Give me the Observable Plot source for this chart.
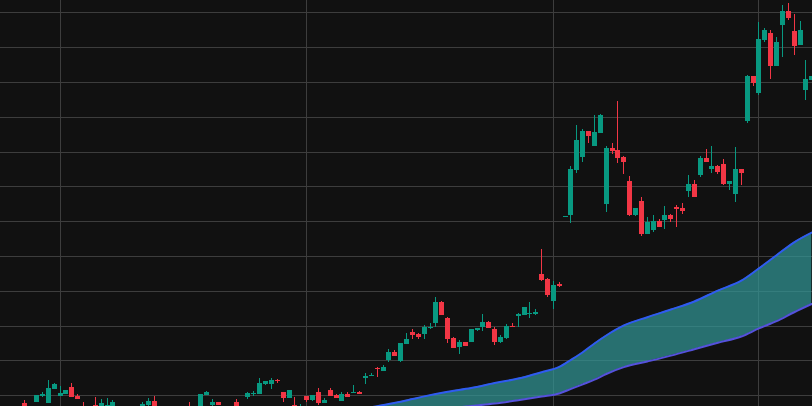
<!DOCTYPE html>
<html><head><meta charset="utf-8">
<script src="https://cdn.jsdelivr.net/npm/d3@7"></script>
<script src="https://cdn.jsdelivr.net/npm/@observablehq/plot@0.6"></script>
<style>html,body{margin:0;padding:0;background:#111111;overflow:hidden}</style>
</head><body><div id="chart"></div>
<script>
// OHLC values per candle (index 0..134)
const open = [992.3,985.3,993.3,999.6,992.6,1006.7,999.6,1001.3,1008.4,999.3,
988.3,985.3,990.3,987.3,987.3,987.3,985.3,981.2,985.3,983.2,
987.3,990.3,994.3,985.3,981.2,983.2,986.3,983.2,988.3,980.2,
983.2,1000.3,990.3,993.3,988.3,984.3,993.3,985.3,998.3,1001.3,
1001.3,1011.4,1011.4,1015.4,1003.3,997.6,990.6,985.3,999.6,995.6,
1003.0,992.6,1005.4,1000.6,994.6,1001.3,1002.3,1003.3,1017.7,1019.4,
1027.5,1024.4,1035.5,1043.5,1034.5,1051.9,1063.6,1061.6,1061.6,1067.4,
1072.7,1093.8,1077.7,1057.6,1048.6,1053.6,1053.6,1065.7,1068.7,1073.7,
1066.7,1053.6,1057.6,1069.7,1079.7,1080.7,1081.7,1082.0,1121.9,1116.9,
1094.8,1111.9,1179.2,1181.2,1226.5,1239.5,1265.6,1250.6,1263.6,1192.3,
1248.6,1246.6,1239.5,1215.4,1181.2,1195.3,1162.1,1166.2,1175.2,1176.2,
1181.2,1189.3,1188.3,1205.3,1212.4,1221.4,1238.5,1227.5,1230.5,1232.5,
1212.4,1202.3,1227.5,1275.7,1320.9,1303.8,1357.1,1364.1,1331.0,1372.2,
1386.2,1366.1,1352.1,1306.8,1316.9];
const high = [995.3,987.3,1000.0,1003.3,1015.4,1012.4,1009.4,1005.4,1012.4,1001.3,
993.3,988.3,998.3,996.3,997.3,995.3,987.3,986.3,987.3,988.3,
993.3,997.3,999.3,987.3,987.3,988.3,987.3,985.3,993.3,986.3,
1001.3,1004.3,996.3,993.3,988.8,988.3,996.3,988.8,1003.3,1004.3,
1017.4,1014.4,1017.4,1016.7,1003.3,1005.4,998.3,991.3,999.6,1000.3,
1007.1,997.0,1007.4,1001.6,1003.3,1003.3,1010.4,1004.3,1022.7,1022.4,
1028.5,1030.5,1046.6,1045.6,1052.6,1062.6,1066.7,1062.6,1070.7,1072.7,
1098.8,1094.8,1078.7,1058.6,1055.6,1053.6,1066.7,1067.7,1081.7,1074.7,
1068.7,1060.6,1071.7,1072.7,1082.7,1088.8,1093.8,1086.8,1147.1,1117.9,
1114.9,1113.9,1180.2,1230.5,1271.7,1267.7,1265.6,1281.7,1282.7,1250.6,
1253.6,1295.8,1240.5,1220.4,1188.3,1199.3,1179.2,1181.2,1177.2,1190.3,
1182.2,1191.3,1193.3,1221.4,1216.4,1240.5,1247.6,1250.6,1231.5,1237.5,
1215.4,1249.6,1227.5,1321.9,1320.9,1375.2,1369.2,1367.1,1360.1,1392.3,
1394.3,1383.2,1376.2,1337.0,1320.9];
const low = [984.3,981.2,993.3,998.3,992.3,1006.4,999.6,1001.3,998.6,996.3,
984.3,983.2,985.3,986.3,986.3,986.3,980.2,979.2,981.2,982.2,
986.3,989.3,984.3,980.2,979.2,981.2,981.2,978.2,981.2,979.2,
982.2,1000.3,989.3,990.3,983.2,982.2,985.3,984.3,996.3,999.3,
1001.3,1010.4,1006.4,1012.1,993.3,997.6,986.3,984.3,993.3,994.3,
990.6,992.6,999.6,997.6,994.6,998.6,1002.3,1001.6,1011.7,1019.4,
1018.7,1024.4,1033.8,1039.5,1033.5,1051.9,1056.6,1056.6,1056.6,1066.7,
1068.7,1080.7,1052.6,1047.6,1041.5,1049.6,1053.6,1064.6,1064.6,1067.7,
1050.6,1052.6,1056.6,1068.7,1068.7,1080.7,1077.7,1080.7,1114.9,1098.8,
1086.8,1108.9,1179.2,1173.2,1223.4,1234.5,1253.6,1250.6,1263.6,1184.2,
1242.5,1233.5,1222.4,1180.2,1180.2,1160.1,1162.1,1164.1,1169.2,1167.2,
1174.2,1169.2,1182.2,1199.3,1199.3,1219.4,1234.5,1223.4,1222.4,1211.4,
1206.4,1194.3,1211.4,1273.7,1310.9,1301.8,1355.1,1317.9,1331.0,1340.0,
1377.2,1342.0,1352.1,1296.8,1316.9];
const close = [987.3,983.2,1000.0,1001.3,1007.4,1011.4,1002.3,1005.4,998.6,996.3,
985.3,987.3,986.3,992.3,990.3,993.3,982.2,985.3,983.2,986.3,
991.3,994.3,985.3,982.2,985.3,986.3,983.2,980.2,983.2,984.3,
1001.3,1003.3,993.3,990.3,985.3,987.3,986.3,988.3,1002.3,1002.3,
1012.4,1014.4,1015.4,1014.1,997.6,1005.4,987.3,988.3,995.6,1000.3,
992.6,995.6,999.6,997.6,1001.3,998.6,1003.3,1001.6,1019.7,1020.7,
1026.2,1028.8,1043.5,1039.5,1052.6,1056.6,1060.6,1058.6,1068.7,1068.7,
1093.8,1080.7,1056.6,1047.6,1053.6,1049.6,1066.7,1067.4,1073.7,1067.7,
1053.6,1058.6,1069.7,1068.7,1081.7,1088.8,1082.7,1084.0,1115.9,1100.8,
1110.9,1109.9,1180.2,1227.5,1256.6,1265.6,1260.6,1264.6,1281.7,1248.6,
1245.5,1238.5,1234.5,1181.2,1188.3,1162.1,1174.2,1175.2,1169.2,1181.2,
1177.2,1187.3,1185.3,1212.4,1199.3,1238.5,1234.5,1230.5,1224.4,1212.4,
1215.4,1227.5,1223.4,1320.9,1313.9,1358.1,1367.1,1331.0,1355.1,1386.2,
1379.2,1351.1,1367.1,1317.9,1320.9];

// Channel band sampled at candle indices
const bandIndex = [56,60,64,66,68,72,76,80,84,88,91,93,95,97,99,102,106,110,114,118,122,125,128,131,134];
const bandUpper = [985.2,989.6,994.0,996.7,999.4,1004.1,1007.8,1012.8,1017.3,1023.7,1029.0,1036.2,1043.8,1052.6,1060.6,1070.7,1079.0,1086.7,1094.8,1105.8,1115.7,1128.1,1141.3,1154.3,1164.1];
const bandLower = [978.7,980.2,982.5,983.7,985.0,987.3,989.7,992.2,995.6,999.3,1002.3,1006.9,1011.5,1016.2,1021.9,1028.8,1034.5,1040.4,1046.8,1053.3,1059.6,1067.7,1075.0,1084.0,1092.3];

// Grid positions
const priceTicks = [1000,1035,1070,1105,1140,1175,1210,1245,1280,1315,1350,1385];
const timeTicks = [6,48,90,125];

const candles = open.map((o, i) => ({i, open: o, high: high[i], low: low[i], close: close[i]}));
const band = bandIndex.map((k, j) => ({k, upper: bandUpper[j], lower: bandLower[j]}));
const col = d => d.close >= d.open ? "#089981" : "#f23645";

const chart = Plot.plot({
  width: 812, height: 406,
  margin: 0,
  style: {background: "#111111"},
  x: {type: "linear", domain: [-4.138, 134.12], axis: null},
  y: {type: "linear", domain: [989.24, 1397.34], axis: null},
  marks: [
    Plot.gridY(priceTicks, {stroke: "#3d3d3d", strokeOpacity: 1, strokeWidth: 1, shapeRendering: "crispEdges"}),
    Plot.gridX(timeTicks, {stroke: "#3d3d3d", strokeOpacity: 1, strokeWidth: 1, shapeRendering: "crispEdges"}),
    Plot.areaY(band, {x: "k", y1: "lower", y2: "upper", curve: "monotone-x", fill: "rgb(50,150,150)", fillOpacity: 0.72, clip: true}),
    Plot.lineY(band, {x: "k", y: "upper", curve: "monotone-x", stroke: "#2f5bf0", strokeWidth: 2, clip: true}),
    Plot.lineY(band, {x: "k", y: "lower", curve: "monotone-x", stroke: "#5552dc", strokeWidth: 2, clip: true}),
    Plot.ruleX(candles, {x: "i", y1: "low", y2: "high", stroke: col, strokeWidth: 1, shapeRendering: "crispEdges", clip: true}),
    Plot.ruleX(candles, {x: "i", y1: "open", y2: "close", stroke: col, strokeWidth: 5, shapeRendering: "crispEdges", clip: true})
  ]
});
document.getElementById("chart").appendChild(chart);
</script>
</body></html>
